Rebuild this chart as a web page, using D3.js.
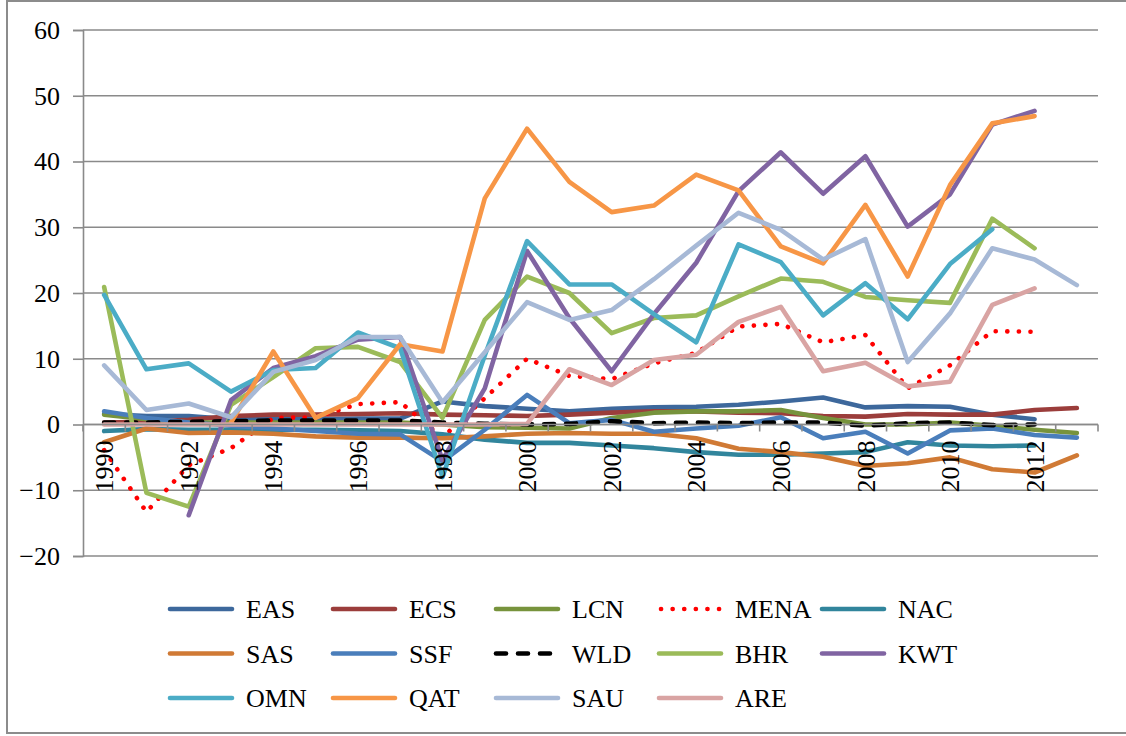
<!DOCTYPE html>
<html>
<head>
<meta charset="utf-8">
<script src="https://cdn.jsdelivr.net/npm/d3@7"></script>
<style>
  body { margin: 0; background: #fff; }
  svg text { font-family: "Liberation Serif", "Times New Roman", Times, "DejaVu Serif", serif; }
</style>
</head>
<body>
<div id="chart"></div>
<script>
// categories and tick labels
var years = [1990,1991,1992,1993,1994,1995,1996,1997,1998,1999,2000,2001,2002,2003,2004,2005,2006,2007,2008,2009,2010,2011,2012,2013];
var yearLabels = [1990,1992,1994,1996,1998,2000,2002,2004,2006,2008,2010,2012];
var yTicks = [-20,-10,0,10,20,30,40,50,60];

// series values, 1990..2013
var EAS  = [1.6,1.3,1.3,0.8,0.8,0.8,0.9,0.9,3.5,2.8,2.4,2.0,2.4,2.6,2.7,3.0,3.5,4.1,2.6,2.8,2.7,1.5,0.8,null];
var ECS  = [0.3,0.4,0.7,1.3,1.5,1.5,1.6,1.7,1.5,1.4,1.3,1.5,1.8,2.0,2.0,1.8,1.7,1.3,1.2,1.6,1.5,1.5,2.2,2.5];
var LCN  = [1.5,0.8,0.3,0.3,0.3,0.3,0.3,0.3,0.0,-0.4,-0.5,-0.6,1.0,1.8,2.0,2.0,2.2,1.0,0.0,0.0,0.3,-0.2,-0.8,-1.3];
var MENA = [-3.9,-13.3,-6.2,-3.6,1.0,1.1,3.1,3.4,-2.0,4.0,10.0,7.4,6.9,9.3,10.9,14.9,15.3,12.5,13.6,5.5,9.0,14.2,14.1,null];
var NAC  = [-1.0,-0.7,-0.8,-0.8,-0.8,-0.8,-0.9,-1.0,-1.5,-2.3,-2.8,-2.8,-3.2,-3.6,-4.2,-4.6,-4.6,-4.4,-4.2,-2.7,-3.2,-3.3,-3.2,null];
var SAS  = [-2.7,-0.6,-1.3,-1.2,-1.4,-1.8,-2.0,-2.0,-2.1,-1.8,-1.4,-1.3,-1.4,-1.4,-2.1,-3.7,-4.2,-4.9,-6.3,-5.9,-5.0,-6.8,-7.3,-4.7];
var SSF  = [2.0,1.0,0.3,-0.2,-0.6,-1.0,-1.4,-1.5,-5.6,-0.8,4.5,0.2,0.7,-1.1,-0.6,-0.2,1.1,-2.1,-1.1,-4.4,-0.9,-0.6,-1.6,-2.0];
var WLD  = [0.3,0.3,0.4,0.5,0.6,0.6,0.6,0.6,0.3,0.1,0.0,0.1,0.5,0.2,0.3,0.2,0.3,0.3,-0.2,0.2,0.3,-0.1,0.0,null];
var BHR  = [20.9,-10.4,-12.5,3.0,7.2,11.6,11.8,9.5,1.0,15.9,22.5,20.0,13.9,16.2,16.6,19.5,22.2,21.7,19.4,18.9,18.5,31.3,26.8,null];
var KWT  = [null,null,-13.8,3.7,8.6,10.4,12.9,13.3,-5.4,5.5,26.4,16.2,8.1,16.8,24.6,35.5,41.4,35.1,40.8,30.1,35.0,45.6,47.7,null];
var OMN  = [19.7,8.4,9.3,5.0,8.3,8.6,14.0,11.6,-8.0,10.5,27.9,21.3,21.3,16.8,12.5,27.4,24.7,16.6,21.5,16.0,24.4,29.7,null,null];
var QAT  = [null,null,null,0.3,11.1,1.0,4.0,12.2,11.1,34.4,45.0,36.9,32.3,33.3,38.0,35.6,27.1,24.5,33.4,22.5,36.4,45.8,46.9,null];
var SAU  = [9.0,2.2,3.2,1.1,8.0,9.8,13.3,13.3,3.4,11.0,18.6,15.9,17.4,22.1,27.2,32.2,29.6,25.1,28.2,9.5,16.9,26.8,25.1,21.2];
var ARE  = [0,0,0,0,0,0,0,0,0,0,0.1,8.4,6.0,9.8,10.6,15.6,17.9,8.1,9.4,5.8,6.5,18.2,20.7,null];

var seriesNames = ["EAS","ECS","LCN","MENA","NAC","SAS","SSF","WLD","BHR","KWT","OMN","QAT","SAU","ARE"];
var seriesValues = [EAS,ECS,LCN,MENA,NAC,SAS,SSF,WLD,BHR,KWT,OMN,QAT,SAU,ARE];
var seriesColors = ["#3D689C","#9B3D3B","#77933C","#FF0000","#31859C","#D07A35","#4A7EBB","#000000",
                    "#9BBB59","#8064A2","#4BACC6","#F79646","#A7B9D6","#D9A4A3"];

var width = 1126;
var height = 736;
var margin = {top: 30, right: 28, bottom: 180, left: 83};
var serif = "'Liberation Serif', 'Times New Roman', Times, 'DejaVu Serif', serif";

var svg = d3.select("#chart")
  .append("svg")
  .attr("width", width)
  .attr("height", height);

// outer chart border
svg.append("rect")
  .attr("x", 7).attr("y", 1)
  .attr("width", 1130).attr("height", 732)
  .style("fill", "none")
  .style("stroke", "#8c8c8c")
  .style("stroke-width", 2);

var x_scale = d3.scaleBand()
  .domain(years)
  .range([margin.left, width - margin.right])
  .padding(0);

var y_scale = d3.scaleLinear()
  .domain([-20, 60])
  .range([height - margin.bottom, margin.top]);

// horizontal gridlines
svg.append("g")
  .selectAll("line")
  .data(yTicks)
  .enter()
  .append("line")
  .attr("x1", margin.left)
  .attr("x2", width - margin.right)
  .attr("y1", d => y_scale(d))
  .attr("y2", d => y_scale(d))
  .style("stroke", "#8a8a8a")
  .style("stroke-width", 1.6);

// y axis
var yAxis = d3.axisLeft(y_scale)
  .tickValues(yTicks)
  .tickSize(10)
  .tickPadding(13);

var axis_left = svg.append("g")
  .attr("transform", "translate(" + margin.left + ",0)")
  .call(yAxis)
  .attr("font-family", serif);

axis_left.selectAll("path").style("stroke", "#8a8a8a").style("stroke-width", 1.6);
axis_left.selectAll("line").style("stroke", "#8a8a8a").style("stroke-width", 1.6);
axis_left.selectAll("text")
  .style("font-family", serif)
  .style("font-size", "26px")
  .style("fill", "#000");

// x axis crossing at zero, ticks on category boundaries
var y0 = y_scale(0);
var xg = svg.append("g");
xg.append("line")
  .attr("x1", x_scale.range()[0])
  .attr("x2", x_scale.range()[1])
  .attr("y1", y0).attr("y2", y0)
  .style("stroke", "#8a8a8a")
  .style("stroke-width", 1.6);

var boundaries = years.map(d => x_scale(d)).concat([x_scale.range()[1]]);
xg.selectAll(".tick")
  .data(boundaries)
  .enter()
  .append("line")
  .attr("class", "tick")
  .attr("x1", d => d).attr("x2", d => d)
  .attr("y1", y0).attr("y2", y0 + 7)
  .style("stroke", "#8a8a8a")
  .style("stroke-width", 1.6);

// lines
var line = d3.line()
  .defined(d => d.v !== null)
  .x(d => x_scale(d.year) + x_scale.bandwidth() / 2)
  .y(d => y_scale(d.v));

var seriesData = seriesNames.map(function(name, i) {
  return {
    name: name,
    color: seriesColors[i],
    values: years.map(function(yr, j) { return {year: yr, v: seriesValues[i][j]}; })
  };
});

function styleLine(sel) {
  sel.style("fill", "none")
    .style("stroke", d => d.color)
    .style("stroke-width", 4.6)
    .style("stroke-linejoin", "round")
    .style("stroke-linecap", "round")
    .style("stroke-dasharray", function(d) {
      if (d.name == "MENA") return "0.1,11.5";
      if (d.name == "WLD") return "10,12";
      return null;
    });
}

svg.append("g")
  .selectAll("path")
  .data(seriesData)
  .enter()
  .append("path")
  .attr("d", d => line(d.values))
  .call(styleLine);

// x labels (drawn above lines, like the reference)
xg.raise();
xg.selectAll(".xlabel")
  .data(yearLabels)
  .enter()
  .append("text")
  .attr("class", "xlabel")
  .attr("transform", d => "translate(" + (x_scale(d) + x_scale.bandwidth() / 2) + "," + (y0 + 16) + ") rotate(-90)")
  .attr("dy", "0.35em")
  .style("text-anchor", "end")
  .style("font-family", serif)
  .style("font-size", "26px")
  .style("fill", "#000")
  .text(d => d);

// legend
var legend = svg.append("g");
var legendItems = legend.selectAll("g")
  .data(seriesData)
  .enter()
  .append("g")
  .attr("transform", function(d, i) {
    var col = i % 5, row = Math.floor(i / 5);
    return "translate(" + (170 + col * 163) + "," + (609 + row * 44.5) + ")";
  });

legendItems.append("path")
  .attr("d", d => d.name == "MENA" ? "M2,0 L64,0" : "M0,0 L62,0")
  .call(styleLine);

legendItems.append("text")
  .attr("x", 76)
  .attr("y", 9)
  .style("font-family", serif)
  .style("font-size", "26px")
  .style("fill", "#000")
  .text(d => d.name);
</script>
</body>
</html>
